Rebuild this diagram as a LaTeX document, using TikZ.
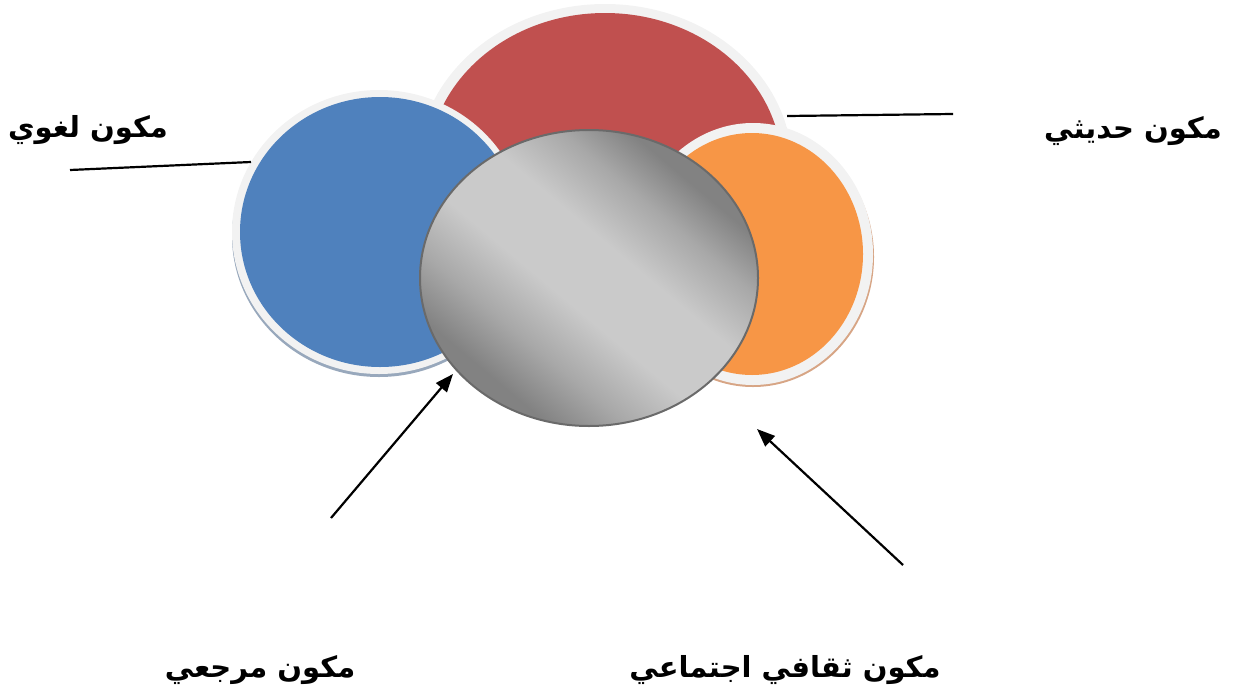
\documentclass[tikz,border=0pt]{standalone}
\usepackage{fontspec}
\newfontfamily\arabicfont[Script=Arabic]{DejaVu Sans}
\TeXXeTstate=1
\usetikzlibrary{arrows.meta}
\definecolor{cred}{HTML}{C0504F}
\definecolor{cblue}{HTML}{4F81BD}
\definecolor{corange}{HTML}{F79646}
\definecolor{cring}{HTML}{F2F2F2}
\definecolor{cblueshadow}{HTML}{98A8BC}
\definecolor{corangeshadow}{HTML}{D7A585}
\definecolor{credshadow}{HTML}{D8C8C8}
\definecolor{gdark}{HTML}{828282}
\definecolor{gmid}{HTML}{A8A8A8}
\definecolor{glight}{HTML}{CACACA}
\definecolor{gborder}{HTML}{6A6A6A}
\pgfdeclareverticalshading{grayglass}{100bp}{color(0bp)=(gdark); color(28bp)=(gdark); color(36bp)=(gmid); color(45bp)=(glight); color(56bp)=(glight); color(65bp)=(gmid); color(72bp)=(gdark); color(100bp)=(gdark)}
\tikzset{
  lbl/.style={font=\arabicfont\bfseries\fontsize{29}{34}\selectfont, inner sep=0pt},
  conn/.style={line width=2.2pt, black},
  arr/.style={conn, -{Triangle[length=18pt,width=14pt]}},
}
\begin{document}
\begin{tikzpicture}[x=1pt,y=-1pt]
\useasboundingbox (0,0) rectangle (1233,699);
% red
\fill[credshadow] (605,168) ellipse[x radius=187, y radius=163];
\fill[cring] (605,166) ellipse[x radius=187, y radius=162];
\fill[cred] (605,168) ellipse[x radius=177, y radius=155];
% blue
\fill[cblueshadow] (379,236) ellipse[x radius=147, y radius=141];
\fill[cring] (379,232) ellipse[x radius=147, y radius=142];
\fill[cblue] (380,232) ellipse[x radius=140, y radius=135];
% orange
\fill[corangeshadow] (753,257) ellipse[x radius=121, y radius=130];
\fill[cring] (753,254) ellipse[x radius=120, y radius=131];
\fill[corange] (752,254) ellipse[x radius=111, y radius=121];
% gray
\shade[shading=grayglass, shading angle=-40, draw=gborder, line width=2pt] (589,278) ellipse[x radius=169, y radius=148];
% labels
\node[lbl] (tlughawi) at (88,130) {\beginR مكون لغوي\endR};
\node[lbl] (thadithi) at (1133,131) {\beginR مكون حديثي\endR};
\node[lbl] (tmarjai) at (260,670) {\beginR مكون مرجعي\endR};
\node[lbl] (tthaqafi) at (785,670) {\beginR مكون ثقافي اجتماعي\endR};
% connectors
\coordinate (l1a) at (70,170);
\coordinate (l1b) at (251,162);
\coordinate (l2a) at (787,116);
\coordinate (l2b) at (953,114);
\coordinate (a1s) at (331,518);
\coordinate (a1e) at (453,374);
\coordinate (a2s) at (903,565);
\coordinate (a2e) at (757,429);
\draw[conn] (l1a) -- (l1b);
\draw[conn] (l2a) -- (l2b);
\draw[arr] (a1s) -- (a1e);
\draw[arr] (a2s) -- (a2e);
\end{tikzpicture}
\end{document}
